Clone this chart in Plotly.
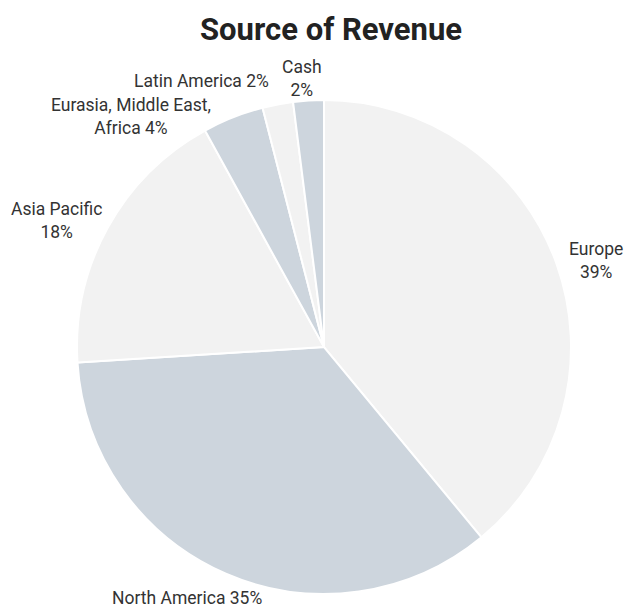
import plotly.graph_objects as go

# Revenue share by source, clockwise from 12 o'clock
sources = ["Europe", "North America", "Asia Pacific",
           "Eurasia, Middle East, Africa", "Latin America", "Cash"]
shares = [39, 35, 18, 4, 2, 2]
label_text = ["Europe<br>39%", "North America 35%", "Asia Pacific<br>18%",
              "Eurasia, Middle East,<br>Africa 4%", "Latin America 2%", "Cash<br>2%"]

LIGHT = "#f2f2f2"
STEEL = "#cdd5dd"
slice_colors = [LIGHT, STEEL, LIGHT, STEEL, LIGHT, STEEL]

# label anchor points (paper coords) for each slice
label_pos = [(0.9506, 0.573), (0.2982, 0.0195), (0.0909, 0.6393),
             (0.2089, 0.8098), (0.3206, 0.8672), (0.4817, 0.8713)]

fig = go.Figure(go.Pie(
    labels=sources,
    values=shares,
    sort=False,
    direction="clockwise",
    rotation=0,
    marker=dict(colors=slice_colors, line=dict(color="white", width=2)),
    textinfo="none",
    hoverinfo="label+percent",
    domain=dict(x=[0.1228, 0.9107], y=[0.0262, 0.836]),
    showlegend=False,
))

for txt, (x, y) in zip(label_text, label_pos):
    fig.add_annotation(
        x=x, y=y, xref="paper", yref="paper", text=txt, showarrow=False,
        align="center", xanchor="center", yanchor="middle",
        font=dict(family="Roboto, Arial, sans-serif", size=17.5, color="#333333"),
    )

fig.update_layout(
    width=627, height=610,
    margin=dict(l=0, r=0, t=0, b=0),
    paper_bgcolor="white",
    plot_bgcolor="white",
    title=dict(
        text="<b>Source of Revenue</b>",
        x=0.528, xanchor="center", y=0.953, yanchor="middle",
        font=dict(family="Roboto, Arial, sans-serif", size=31, color="#222222"),
    ),
)

fig.write_html("out.html")
